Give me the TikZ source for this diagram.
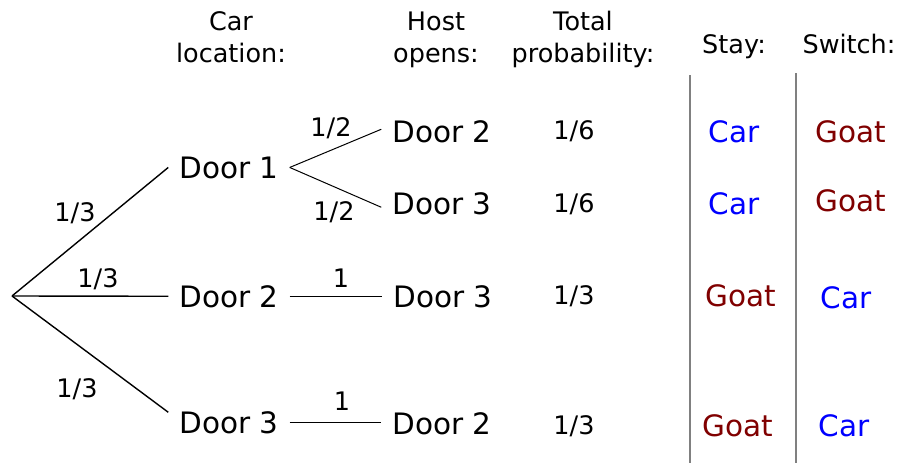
\documentclass[tikz,border=0pt]{standalone}
\usepackage{fontspec}
\setmainfont{DejaVu Sans}
\usetikzlibrary{positioning,calc}
\usepackage{xcolor}
\definecolor{carblue}{RGB}{0,0,255}
\definecolor{goatred}{RGB}{128,0,0}

\begin{document}
\begin{tikzpicture}[x=1pt,y=-1pt,
  door/.style={font=\fontsize{29.5}{33}\selectfont,anchor=base,inner xsep=11pt,inner ysep=0pt},
  lbl/.style={font=\fontsize{25.5}{32}\selectfont,anchor=base,inner sep=0pt},
  hdr/.style={lbl,align=center},
  car/.style={door,text=carblue},
  goat/.style={door,text=goatred},
  branch/.style={line width=1.4pt},
  twig/.style={line width=1pt}]
  \useasboundingbox (0,0) rectangle (901,463);
  % headers
  \node[hdr] (hcar) at (231,62) {Car\\location:};
  \node[hdr] (hhost) at (436,62) {Host\\opens:};
  \node[hdr] (htot) at (583,62) {Total\\probability:};
  \node[lbl] (hstay) at (734,53) {Stay:};
  \node[lbl] (hswitch) at (849,53) {Switch:};
  % first level
  \coordinate (root) at (12,296);
  \node[door] (d1) at (229,178) {Door 1};
  \node[door] (d2) at (229,307) {Door 2};
  \node[door] (d3) at (229,433) {Door 3};
  \draw[branch] (root) -- (d1.west);
  \draw[branch] (root) -- (d2.west);
  \draw[branch] (root) -- ([yshift=10pt]d3.west);
  \node[lbl] at (75,221) {1/3};
  \node[lbl] at (98,287) {1/3};
  \node[lbl] at (77,397) {1/3};
  % host opens
  \node[door] (o12) at (442,142) {Door 2};
  \node[door] (o13) at (442,214) {Door 3};
  \node[door] (o23) at (443,307) {Door 3};
  \node[door] (o32) at (442,434) {Door 2};
  \draw[twig] (d1.east) -- ([yshift=2pt]o12.west);
  \draw[twig] (d1.east) -- ([yshift=-4pt]o13.west);
  \draw[twig] (d2.east) -- (d2.east -| o23.west);
  \draw[twig] (d3.east) -- (d3.east -| o32.west);
  \node[lbl] at (331,136) {1/2};
  \node[lbl] at (334,220) {1/2};
  \node[lbl] at (341,287) {1};
  \node[lbl] at (342,410) {1};
  % total probability
  \node[lbl] (p1) at (574,139) {1/6};
  \node[lbl] (p2) at (574,212) {1/6};
  \node[lbl] (p3) at (574,304) {1/3};
  \node[lbl] (p4) at (574,434) {1/3};
  % stay / switch
  \draw[gray,line width=1.2pt] (690,75) -- (690,463);
  \draw[gray,line width=1.2pt] (796,73) -- (796,463);
  \node[car] (s1) at (734,142) {Car};
  \node[car] (s2) at (734,214) {Car};
  \node[goat] (s3) at (741,306) {Goat};
  \node[goat] (s4) at (738,436) {Goat};
  \node[goat] (w1) at (851,142) {Goat};
  \node[goat] (w2) at (851,211) {Goat};
  \node[car] (w3) at (846,308) {Car};
  \node[car] (w4) at (844,436) {Car};
\end{tikzpicture}
\end{document}
